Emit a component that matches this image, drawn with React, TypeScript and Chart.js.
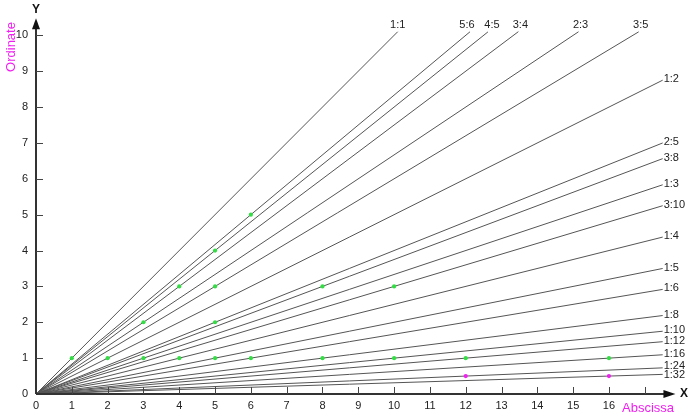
import React, { useEffect, useRef } from "react";
import { Chart, registerables } from "chart.js";

Chart.register(...registerables);

const ratioLabels = ["1:1", "5:6", "4:5", "3:4", "2:3", "3:5", "1:2", "2:5", "3:8", "1:3", "3:10", "1:4", "1:5", "1:6", "1:8", "1:10", "1:12", "1:16", "1:24", "1:32"];
const ratioNum = [1, 5, 4, 3, 2, 3, 1, 2, 3, 1, 3, 1, 1, 1, 1, 1, 1, 1, 1, 1];
const ratioDen = [1, 6, 5, 4, 3, 5, 2, 5, 8, 3, 10, 4, 5, 6, 8, 10, 12, 16, 24, 32];
const lineEndX = [10.1, 12.12, 12.62, 13.47, 15.15, 16.83, 17.5, 17.5, 17.5, 17.5, 17.5, 17.5, 17.5, 17.5, 17.5, 17.5, 17.5, 17.5, 17.5, 17.5];

const greenX = [1, 2, 3, 3, 4, 4, 5, 5, 5, 5, 6, 6, 8, 8, 10, 10, 12, 16];
const greenY = [1, 1, 1, 2, 1, 3, 1, 2, 3, 4, 1, 5, 1, 3, 1, 3, 1, 1];
const magentaX = [12, 16];
const magentaY = [0.5, 0.5];

const xTickValues = [0, 1, 2, 3, 4, 5, 6, 7, 8, 9, 10, 11, 12, 13, 14, 15, 16, 17];
const xTickLabels = ["0", "1", "2", "3", "4", "5", "6", "7", "8", "9", "10", "11", "12", "13", "14", "15", "16", ""];
const yTickValues = [0, 1, 2, 3, 4, 5, 6, 7, 8, 9, 10];
const yTickLabels = ["0", "1", "2", "3", "4", "5", "6", "7", "8", "9", "10"];

const xAxisTitle = "Abscissa";
const yAxisTitle = "Ordinate";
const xAxisName = "X";
const yAxisName = "Y";

// style-only: label nudges (px)
const labelNudgeY: Record<string, number> = { "1:24": -0.5, "1:32": 2 };
const labelNudgeX: Record<string, number> = { "5:6": -3, "4:5": 4, "3:4": 2, "2:3": 2, "3:5": 2 };

const FONT = '"Liberation Sans", Arial, sans-serif';
const MAGENTA = "#f01ef0";

const overlay = {
  id: "overlay",
  afterDraw(chart: any) {
    const ctx = chart.ctx as CanvasRenderingContext2D;
    const xs = chart.scales.x;
    const ys = chart.scales.y;
    const x0 = xs.getPixelForValue(0);
    const y0 = ys.getPixelForValue(0);
    ctx.save();

    // ratio labels
    ctx.fillStyle = "#222";
    ctx.font = `11px ${FONT}`;
    ratioLabels.forEach((lab, i) => {
      const ex = lineEndX[i];
      const ey = (ex * ratioNum[i]) / ratioDen[i];
      const px = xs.getPixelForValue(ex);
      const py = ys.getPixelForValue(ey);
      if (ey > 9.9) {
        ctx.textAlign = "center";
        ctx.textBaseline = "bottom";
        ctx.fillText(lab, px + (labelNudgeX[lab] || 0), py - 1);
      } else {
        ctx.textAlign = "left";
        ctx.textBaseline = "middle";
        ctx.fillText(lab, px + 1, py - 1 + (labelNudgeY[lab] || 0));
      }
    });

    // axes
    ctx.strokeStyle = "#333";
    ctx.fillStyle = "#111";
    ctx.lineWidth = 2;
    const xEnd = xs.getPixelForValue(17.55);
    const yEnd = ys.getPixelForValue(10.2);
    ctx.beginPath();
    ctx.moveTo(x0, y0);
    ctx.lineTo(xEnd, y0);
    ctx.moveTo(x0, y0);
    ctx.lineTo(x0, yEnd);
    ctx.stroke();
    // arrowheads
    ctx.beginPath();
    ctx.moveTo(xEnd + 11, y0);
    ctx.lineTo(xEnd - 1, y0 - 4);
    ctx.lineTo(xEnd - 1, y0 + 4);
    ctx.closePath();
    ctx.fill();
    ctx.beginPath();
    ctx.moveTo(x0, yEnd - 10);
    ctx.lineTo(x0 - 4, yEnd + 1);
    ctx.lineTo(x0 + 4, yEnd + 1);
    ctx.closePath();
    ctx.fill();

    // ticks
    ctx.lineWidth = 1;
    ctx.strokeStyle = "#444";
    ctx.beginPath();
    xTickValues.forEach((v) => {
      if (v === 0) return;
      const px = Math.round(xs.getPixelForValue(v)) + 0.5;
      ctx.moveTo(px, y0);
      ctx.lineTo(px, y0 - 7);
    });
    yTickValues.forEach((v) => {
      if (v === 0) return;
      const py = Math.round(ys.getPixelForValue(v)) + 0.5;
      ctx.moveTo(x0, py);
      ctx.lineTo(x0 + 7, py);
    });
    ctx.stroke();

    // tick labels
    ctx.fillStyle = "#222";
    ctx.font = `11px ${FONT}`;
    ctx.textAlign = "center";
    ctx.textBaseline = "middle";
    xTickValues.forEach((v, i) => {
      ctx.fillText(xTickLabels[i], xs.getPixelForValue(v), y0 + 12);
    });
    ctx.textAlign = "right";
    yTickValues.forEach((v, i) => {
      ctx.fillText(yTickLabels[i], x0 - 8, ys.getPixelForValue(v));
    });

    // axis names
    ctx.font = `bold 12px ${FONT}`;
    ctx.fillStyle = "#111";
    ctx.textAlign = "center";
    ctx.fillText(xAxisName, 684, y0);
    ctx.fillText(yAxisName, x0, 10);

    // axis titles
    ctx.font = `13px ${FONT}`;
    ctx.fillStyle = MAGENTA;
    ctx.fillText(xAxisTitle, 648, 408);
    ctx.save();
    ctx.translate(11, 47);
    ctx.rotate(-Math.PI / 2);
    ctx.fillText(yAxisTitle, 0, 0);
    ctx.restore();

    ctx.restore();
  },
};

export default function App() {
  const ref = useRef<HTMLCanvasElement | null>(null);
  useEffect(() => {
    if (!ref.current) return;
    const lineSets = ratioLabels.map((lab, i) => ({
      label: lab,
      data: [
        { x: 0, y: 0 },
        { x: lineEndX[i], y: (lineEndX[i] * ratioNum[i]) / ratioDen[i] },
      ],
      showLine: true,
      borderColor: "#555",
      borderWidth: 1,
      pointRadius: 0,
      order: 2,
    }));
    const chart = new Chart(ref.current, {
      type: "scatter",
      data: {
        datasets: [
          {
            label: "green",
            data: greenX.map((x, i) => ({ x, y: greenY[i] })),
            backgroundColor: "#33dd44",
            borderWidth: 0,
            pointRadius: 2.1,
            order: 1,
          },
          {
            label: "magenta",
            data: magentaX.map((x, i) => ({ x, y: magentaY[i] })),
            backgroundColor: "#ee22ee",
            borderWidth: 0,
            pointRadius: 2.1,
            order: 1,
          },
          ...lineSets,
        ] as any,
      },
      options: {
        animation: false,
        responsive: false,
        maintainAspectRatio: false,
        layout: { padding: { left: 36, right: 23, top: 21, bottom: 26 } },
        plugins: { legend: { display: false }, tooltip: { enabled: false } },
        scales: {
          x: { type: "linear", min: 0, max: 17.9, display: false },
          y: { type: "linear", min: 0, max: 10.4, display: false },
        },
      },
      plugins: [overlay],
    });
    return () => chart.destroy();
  }, []);
  return (
    <div style={{ position: "fixed", left: 0, top: 0, width: 700, height: 420, background: "#fff" }}>
      <canvas ref={ref} width={700} height={420} style={{ width: 700, height: 420, display: "block" }} />
    </div>
  );
}
